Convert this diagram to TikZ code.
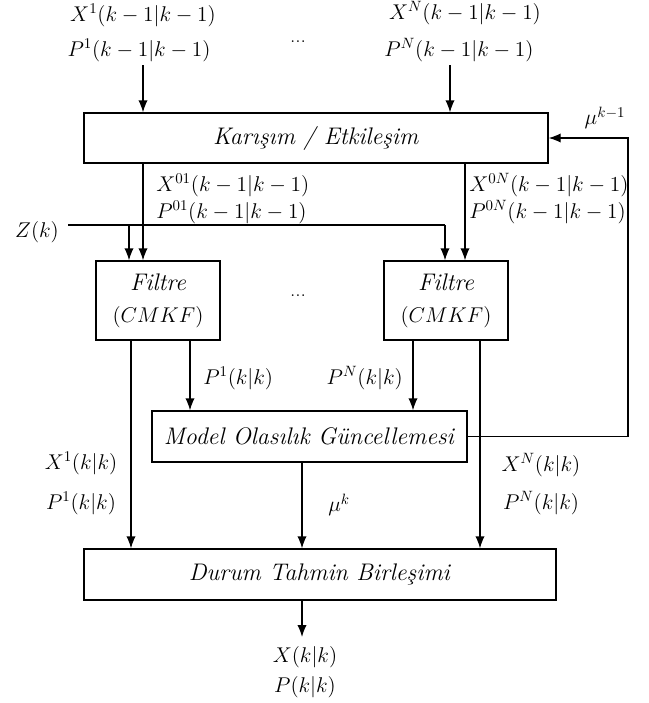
\RequirePackage{fix-cm}
\documentclass[tikz,border=0pt]{standalone}
\usetikzlibrary{arrows.meta}
\begin{document}
\begin{tikzpicture}[x=0.75pt,y=-0.75pt,
  every node/.style={font=\fontsize{16}{19}\selectfont},
  box/.style={draw,line width=1pt,inner sep=0pt,align=center,font=\fontsize{18}{21}\selectfont},
  fbox/.style={box,minimum width=93pt,minimum height=59.25pt,font=\fontsize{18}{24}\selectfont},
  lbl/.style={inner sep=0pt},
  line/.style={line width=1pt},
  arr/.style={line width=1pt,-{Latex[length=9pt,width=7pt]}}]
\useasboundingbox (0,0) rectangle (649,703);
% boxes
\node[box,minimum width=348pt,minimum height=37.5pt] (kar) at (316,138) {\textit{Karışım / Etkileşim}};
\node[fbox] (f1) at (158,300.5) {\textit{Filtre}\\{\fontsize{16}{19}\selectfont$(CMKF)$}};
\node[fbox] (f2) at (446,300.5) {\textit{Filtre}\\{\fontsize{16}{19}\selectfont$(CMKF)$}};
\node[box,minimum width=236.25pt,minimum height=38.25pt] (mod) at (309.5,436.5) {\textit{Model Olasılık Güncellemesi}};
\node[box,minimum width=354pt,minimum height=38.25pt] (dur) at (320,574.5) {\textit{Durum Tahmin Birleşimi}};
% labels
\node[lbl] (x1t) at (143,15) {$X^1(k-1|k-1)$};
\node[lbl] (p1t) at (139,50) {$P^1(k-1|k-1)$};
\node[lbl] (dta) at (298,42) {...};
\node[lbl] (xnt) at (465,13) {$X^N(k-1|k-1)$};
\node[lbl] (pnt) at (459,50) {$P^N(k-1|k-1)$};
\node[lbl] (uk1) at (605,118) {$\mu^{k-1}$};
\node[lbl,anchor=west] (x01) at (156,185) {$X^{01}(k-1|k-1)$};
\node[lbl,anchor=west] (p01) at (156,212) {$P^{01}(k-1|k-1)$};
\node[lbl,anchor=west] (x0n) at (469,185) {$X^{0N}(k-1|k-1)$};
\node[lbl,anchor=west] (p0n) at (469,212) {$P^{0N}(k-1|k-1)$};
\node[lbl] (z) at (37,232) {$Z(k)$};
\node[lbl] (dtb) at (298,296) {...};
\node[lbl,anchor=west] (p1k) at (203,378) {$P^1(k|k)$};
\node[lbl,anchor=east] (pnk) at (403,378) {$P^N(k|k)$};
\node[lbl] (x1kk) at (81,463) {$X^1(k|k)$};
\node[lbl] (p1kk) at (81,503) {$P^1(k|k)$};
\node[lbl] (muk) at (339,505) {$\mu^k$};
\node[lbl] (xnkk) at (541,465) {$X^N(k|k)$};
\node[lbl] (pnkk) at (541,503) {$P^N(k|k)$};
\node[lbl] (xo) at (305,657) {$X(k|k)$};
\node[lbl] (po) at (305,687) {$P(k|k)$};
% coordinates
\coordinate (ca) at (143,65);
\coordinate (cb) at (450,65);
\coordinate (zs) at (68,225);
\coordinate (cz1) at (129,0);
\coordinate (cz2) at (445,0);
\coordinate (cxn) at (465,0);
\coordinate (cf1a) at (131,0);
\coordinate (cf1b) at (190,0);
\coordinate (cf2a) at (413,0);
\coordinate (cf2b) at (480,0);
\coordinate (cm) at (302,0);
\coordinate (cfb) at (628,0);
\coordinate (out) at (302,637);
% connectors
\draw[arr] (ca) -- (ca |- kar.north);
\draw[arr] (cb) -- (cb |- kar.north);
\draw[arr] (kar.south -| ca) -- (f1.north -| ca);
\draw[arr] (kar.south -| cxn) -- (f2.north -| cxn);
\draw[line] (zs) -- (zs -| cz2);
\draw[arr] (zs -| cz2) -- (f2.north -| cz2);
\draw[arr] (zs -| cz1) -- (f1.north -| cz1);
\draw[arr] (f1.south -| cf1a) -- (dur.north -| cf1a);
\draw[arr] (f1.south -| cf1b) -- (mod.north -| cf1b);
\draw[arr] (f2.south -| cf2a) -- (mod.north -| cf2a);
\draw[arr] (f2.south -| cf2b) -- (dur.north -| cf2b);
\draw[arr] (mod.south -| cm) -- (dur.north -| cm);
\draw[arr] (dur.south -| cm) -- (out);
\draw[arr] (mod.east) -- (mod.east -| cfb) -- (kar.east -| cfb) -- (kar.east);
\end{tikzpicture}
\end{document}
